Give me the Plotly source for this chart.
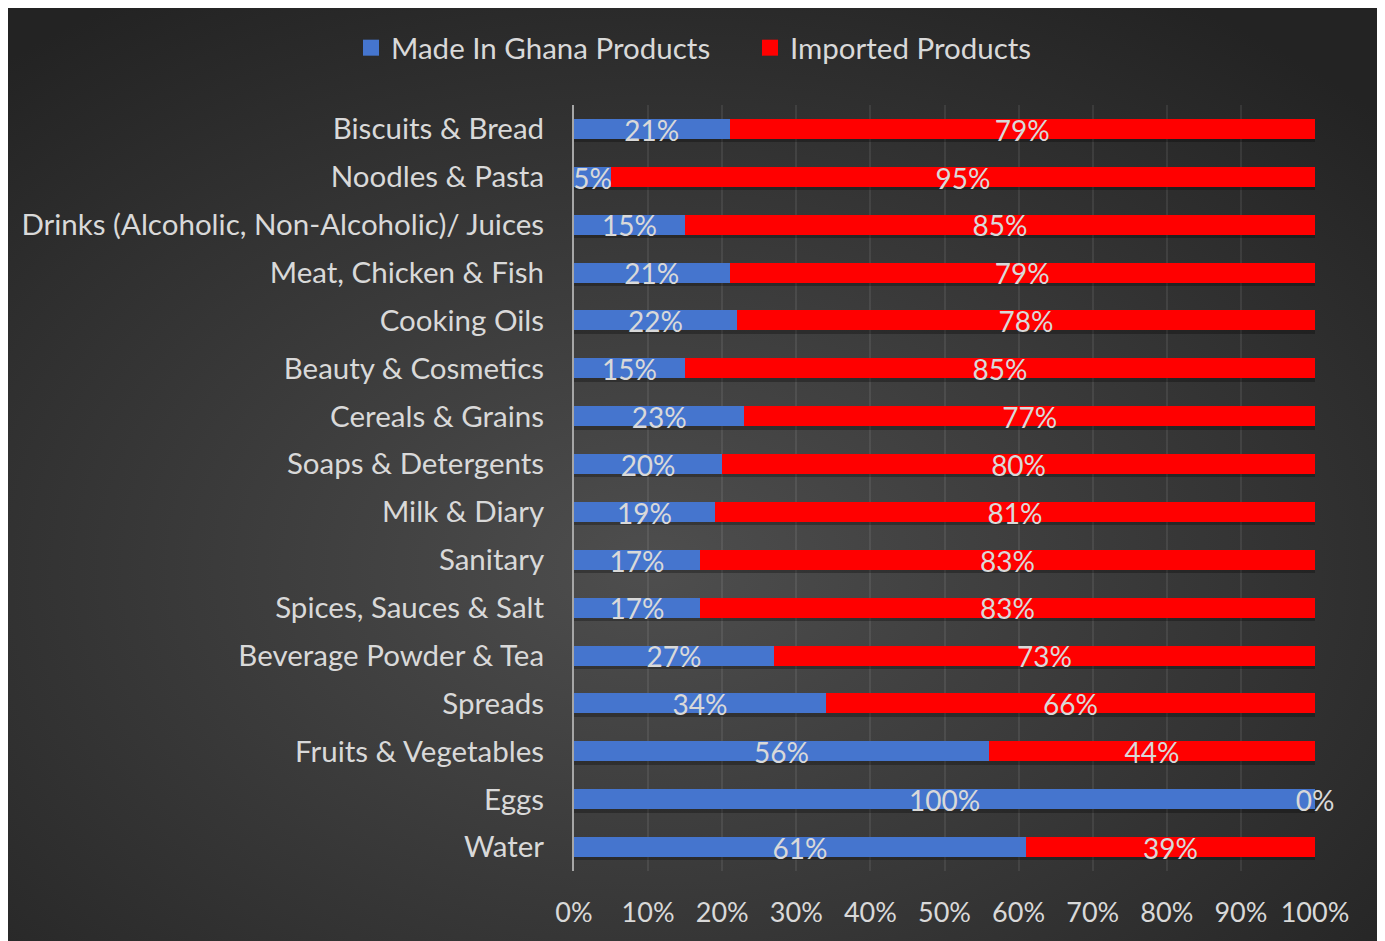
import base64
import plotly.graph_objects as go

categories = [
    "Biscuits & Bread", "Noodles & Pasta", "Drinks (Alcoholic, Non-Alcoholic)/ Juices",
    "Meat, Chicken & Fish", "Cooking Oils", "Beauty & Cosmetics", "Cereals & Grains",
    "Soaps & Detergents", "Milk & Diary", "Sanitary", "Spices, Sauces & Salt",
    "Beverage Powder & Tea", "Spreads", "Fruits & Vegetables", "Eggs", "Water",
]
made_in_ghana = [21, 5, 15, 21, 22, 15, 23, 20, 19, 17, 17, 27, 34, 56, 100, 61]
imported = [79, 95, 85, 79, 78, 85, 77, 80, 81, 83, 83, 73, 66, 44, 0, 39]
x_ticks = [0, 10, 20, 30, 40, 50, 60, 70, 80, 90, 100]
x_tick_labels = [f"{t}%" for t in x_ticks]

BLUE = "#4575CE"
RED = "#FF0000"
TXT = "#D9D9D9"
FONT = "Lato, 'Open Sans', sans-serif"

# figure size (page body adds an 8px margin)
W, H = 1369, 933
L, R, T, B = 566, 1307, 97, 863  # plot area in figure px
BAR_W = 0.42          # bar thickness in category units
LABEL_DY = 0.1        # nudge labels slightly below bar centre
SHADOW_DY = 0.07


def px_x(p):
    return (p - L) / (R - L)


def px_y(p):
    return (B - p) / (B - T)


pos = list(range(len(categories)))
totals = [m + i for m, i in zip(made_in_ghana, imported)]

fig = go.Figure()
# soft drop shadow under the bars
fig.add_trace(go.Bar(
    y=[p + SHADOW_DY for p in pos], x=totals, orientation="h", width=BAR_W,
    marker=dict(color="rgba(0,0,0,0.28)", line=dict(width=0)),
    showlegend=False, hoverinfo="skip",
))
fig.add_trace(go.Bar(
    y=pos, x=made_in_ghana, orientation="h", name="Made In Ghana Products", width=BAR_W,
    marker=dict(color=BLUE, line=dict(width=0)), showlegend=False,
    customdata=categories, hovertemplate="%{customdata}: %{x}%<extra></extra>",
))
fig.add_trace(go.Bar(
    y=pos, x=imported, orientation="h", name="Imported Products", width=BAR_W,
    marker=dict(color=RED, line=dict(width=0)), showlegend=False,
    customdata=categories, hovertemplate="%{customdata}: %{x}%<extra></extra>",
))

# data labels centred in each segment
fig.add_trace(go.Scatter(
    y=[p + LABEL_DY for p in pos], x=[v / 2 for v in made_in_ghana], mode="text",
    text=[f"{v}%" for v in made_in_ghana], textposition="middle center",
    textfont=dict(family=FONT, size=28, color=TXT), showlegend=False,
    hoverinfo="skip", cliponaxis=False,
))
fig.add_trace(go.Scatter(
    y=[p + LABEL_DY for p in pos], x=[m + v / 2 for m, v in zip(made_in_ghana, imported)],
    mode="text", text=[f"{v}%" for v in imported], textposition="middle center",
    textfont=dict(family=FONT, size=28, color=TXT), showlegend=False,
    hoverinfo="skip", cliponaxis=False,
))

# legend entries
for name, col in [("Made In Ghana Products", BLUE), ("Imported Products", RED)]:
    fig.add_trace(go.Scatter(
        x=[None], y=[None], mode="markers", name=name,
        marker=dict(symbol="square", size=19, color=col),
    ))

# radial gradient background
bw, bh = 1372, 933
svg = (
    f'<svg xmlns="http://www.w3.org/2000/svg" width="{bw}" height="{bh}" '
    f'viewBox="0 0 {bw} {bh}" preserveAspectRatio="none"><defs>'
    '<radialGradient id="g" cx="0.47" cy="0.6" r="0.72">'
    '<stop offset="0" stop-color="#4e4e4e"/><stop offset="1" stop-color="#232323"/>'
    '</radialGradient></defs>'
    f'<rect width="{bw}" height="{bh}" fill="url(#g)"/></svg>'
)
src = "data:image/svg+xml;base64," + base64.b64encode(svg.encode()).decode()
fig.add_layout_image(dict(
    source=src, xref="paper", yref="paper",
    x=px_x(0), y=px_y(0),
    sizex=bw / (R - L), sizey=bh / (B - T),
    xanchor="left", yanchor="top", sizing="stretch", layer="below",
))

fig.update_layout(
    width=W, height=H,
    margin=dict(l=L, r=W - R, t=T, b=H - B, pad=0),
    barmode="stack",
    paper_bgcolor="white", plot_bgcolor="rgba(0,0,0,0)",
    font=dict(family=FONT, color=TXT),
    legend=dict(
        orientation="h", x=px_x(343), y=px_y(40), xanchor="left", yanchor="middle",
        font=dict(family=FONT, size=29.5, color=TXT), bgcolor="rgba(0,0,0,0)",
        itemsizing="trace", traceorder="normal",
        entrywidth=354, entrywidthmode="pixels",
    ),
    xaxis=dict(
        range=[0, 100], tickvals=x_ticks, ticktext=x_tick_labels,
        showgrid=True, gridcolor="rgba(255,255,255,0.08)", gridwidth=2,
        zeroline=False, showline=False, ticks="",
        tickfont=dict(family=FONT, size=27, color=TXT), ticklabelstandoff=23,
        fixedrange=True,
    ),
    yaxis=dict(
        range=[len(categories) - 0.5, -0.5], tickvals=pos, ticktext=categories,
        showgrid=False, zeroline=False,
        showline=True, linecolor="#A6A6A6", linewidth=2, ticks="",
        tickfont=dict(family=FONT, size=29.5, color=TXT), ticklabelstandoff=22,
        fixedrange=True,
    ),
)

fig.write_html("out.html")
